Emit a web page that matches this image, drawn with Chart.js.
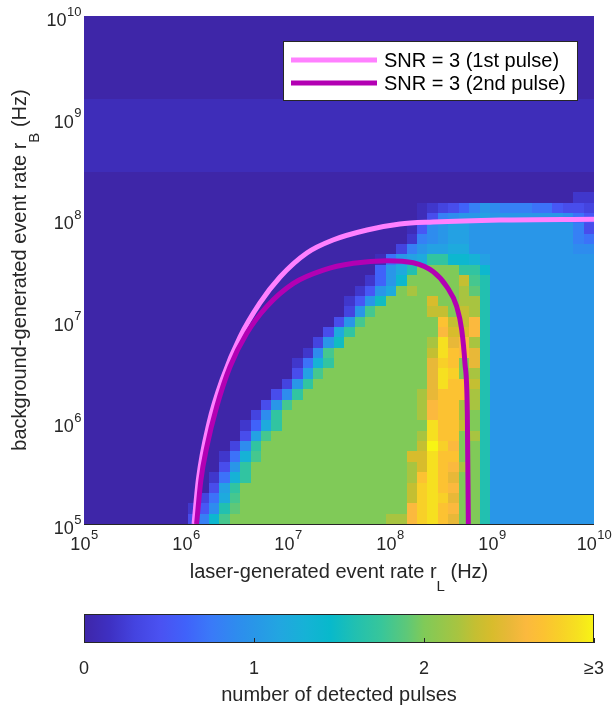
<!DOCTYPE html>
<html>
<head>
<meta charset="utf-8">
<script src="https://cdn.jsdelivr.net/npm/chart.js@4.4.1/dist/chart.umd.min.js"></script>
<style>
  html, body { margin: 0; padding: 0; background: #fff; }
  #wrap { position: relative; width: 614px; height: 708px; }
  #main { position: absolute; left: 0; top: 0; }
  #cbar { position: absolute; left: 0; top: 600px; }
</style>
</head>
<body>
<div id="wrap">
  <canvas id="main" width="614" height="600"></canvas>
  <canvas id="cbar" width="614" height="108"></canvas>
</div>
<script>
// ---- data ------------------------------------------------------------
const rateMin = 1e5;
const rateMax = 1e10;
const nCells = 49;            // simulation grid cells per axis

const tickValues = [1e5, 1e6, 1e7, 1e8, 1e9, 1e10];
const tickExps = ['5', '6', '7', '8', '9', '10'];

// number of detected pulses per cell, one string per row of r_B,
// bottom row (r_B = 1e5) first, r_L left to right. char index / 10 = value
// (spaces only group the chars for reading)
const levelChars = '0123456789abcdefghijklmnopqrstu';
const pulseRows = [
  '0000000000 48ei kkkkkkkkkk kkkkk mmqstrpkkg aaaaaaaaaa',
  '0000000000 259gj kkkkkkkkkk kkkkkk qstrqkkg aaaaaaaaaa',
  '0000000000 0 37ci kkkkkkkkkk kkkkkk nstspkkg aaaaaaaaaa',
  '0000000000 00 4bh kkkkkkkkkk kkkkkk nstrqkkg aaaaaaaaaa',
  '0000000000 00 27dh kkkkkkkkkk kkkkk mrtrpkkg aaaaaaaaaa',
  '0000000000 000 4ah kkkkkkkkkk kkkkk motrqmkg aaaaaaaaaa',
  '0000000000 000 27di kkkkkkkkkk kkkk ootrrkkg aaaaaaaaaa',
  '0000000000 0000 39h kkkkkkkkkk kkkkk nusqkkg aaaaaaaaaa',
  '0000000000 00000 4bi kkkkkkkkkk kkkk mtrrkmg aaaaaaaaaa',
  '0000000000 00000 26ch kkkkkkkkkk kkkk trrnkg aaaaaaaaaa',
  '0000000000 000000 39h kkkkkkkkkk kkk mqrrmkg aaaaaaaaaa',
  '0000000000 0000000 4ai kkkkkkkkkk kk mqrrmmg aaaaaaaaaa',
  '0000000000 00000000 49h kkkkkkkkkk k mprrrmg aaaaaaaaaa',
  '0000000000 000000000 3ah kkkkkkkkkk k ptrrng aaaaaaaaaa',
  '0000000000 0000000000 4bi kkkkkkkkkk ptskmg aaaaaaaaaa',
  '0000000000 0000000000 27dh kkkkkkkkk psrkpg aaaaaaaaaa',
  '0000000000 0000000000 0 29i kkkkkkkkk ntrqpg aaaaaaaaaa',
  '0000000000 0000000000 00 3af kkkkkkkk mtpqmg aaaaaaaaaa',
  '0000000000 0000000000 000 4ch kkkkkkkk qooqg aaaaaaaaaa',
  '0000000000 0000000000 0000 4ai kkkkkkk rnnqg aaaaaaaaaa',
  '0000000000 0000000000 00000 3ai kkkkk nnknmg aaaaaaaaaa',
  '0000000000 0000000000 00000 25af kkkk okkmmg aaaaaaaaaa',
  '0000000000 0000000000 000000 25a ckm kkkk mjg aaaaaaaaaa',
  '0000000000 0000000000 0000000 26 ae kkkkk nig aaaaaaaaaa',
  '0000000000 0000000000 00000000 6 acg kkkk hhe aaaaaaaaaa',
  '0000000000 0000000000 00000000 1 7abchheedb aaaaaaaaaa',
  '0000000000 0000000000 0000000000 38abbcc aaaaaaaaaa 99',
  '0000000000 0000000000 0000000000 0 289abb aaaaaaaaaa 87',
  '0000000000 0000000000 0000000000 0 159abb aaaaaaaaaa 84',
  '0000000000 0000000000 0000000000 00 1489aab aaaaaaa 975',
  '0000000000 0000000000 0000000000 00 123468a9888775443',
  '0000000000 0000000000 0000000000 0000000000 0000000 22',
  '0000000000 0000000000 0000000000 0000000000 000000000',
  '0000000000 0000000000 0000000000 0000000000 000000000',
  '1111111111 1111111111 1111111111 1111111111 111111111',
  '1111111111 1111111111 1111111111 1111111111 111111111',
  '1111111111 1111111111 1111111111 1111111111 111111111',
  '1111111111 1111111111 1111111111 1111111111 111111111',
  '1111111111 1111111111 1111111111 1111111111 111111111',
  '1111111111 1111111111 1111111111 1111111111 111111111',
  '1111111111 1111111111 1111111111 1111111111 111111111',
  '0000000000 0000000000 0000000000 0000000000 000000000',
  '0000000000 0000000000 0000000000 0000000000 000000000',
  '0000000000 0000000000 0000000000 0000000000 000000000',
  '0000000000 0000000000 0000000000 0000000000 000000000',
  '0000000000 0000000000 0000000000 0000000000 000000000',
  '0000000000 0000000000 0000000000 0000000000 000000000',
  '0000000000 0000000000 0000000000 0000000000 000000000',
  '0000000000 0000000000 0000000000 0000000000 000000000'
];

// SNR = 3 contours (r_L, r_B in Hz)
const snr1L = [1.20e6, 1.32e6, 1.68e6, 2.31e6, 3.38e6, 5.31e6, 8.36e6, 1.53e7, 2.76e7, 5.96e7, 1.25e8, 2.64e8, 1.20e9, 1e10];
const snr1B = [1e5, 2.71e5, 9.86e5, 2.80e6, 6.93e6, 1.50e7, 2.70e7, 4.65e7, 6.24e7, 7.83e7, 8.97e7, 9.38e7, 9.82e7, 1e8];

const snr2L = [1.27e6, 1.40e6, 1.60e6, 2.00e6, 2.70e6, 3.94e6, 6.18e6, 1.13e7, 2.22e7, 4.37e7, 9.29e7, 1.69e8, 2.66e8, 3.60e8, 4.51e8, 5.05e8, 5.43e8, 5.73e8, 5.86e8];
const snr2B = [1e5, 2.71e5, 5.77e5, 1.43e6, 3.53e6, 7.53e6, 1.38e7, 2.34e7, 3.16e7, 3.68e7, 3.91e7, 3.73e7, 3.04e7, 2.17e7, 1.38e7, 8.11e6, 3.82e6, 1.23e6, 1e5];

const cbTicks = [0, 1, 2, 3];
const cbLabels = ['0', '1', '2', '\u22653'];

// parula-like colour map, keyed by number of pulses
const cmapStops = [
  [0.00, '#3e26a8'], [0.15, '#3e30c2'], [0.30, '#4444e0'], [0.45, '#4a52f2'],
  [0.60, '#4062fa'], [0.75, '#3a7af8'], [0.90, '#2e8cee'], [1.00, '#2996e8'],
  [1.15, '#22a6e0'], [1.30, '#16b2d6'], [1.45, '#08b9cb'], [1.60, '#22c0b0'],
  [1.75, '#38c69a'], [1.90, '#5ec878'], [2.00, '#80ca58'], [2.20, '#a8c440'],
  [2.30, '#c4bf32'], [2.40, '#d8bc2c'], [2.50, '#e8b838'], [2.60, '#fbb93e'],
  [2.70, '#fcc232'], [2.80, '#f8d028'], [2.90, '#f6e020'], [3.00, '#f8f514']
];

// ---- helpers ---------------------------------------------------------
const FONT = "'Liberation Sans', Arial, sans-serif";
const TEXT = '#262626';

function hexRgb(h) {
  return [parseInt(h.slice(1, 3), 16), parseInt(h.slice(3, 5), 16), parseInt(h.slice(5, 7), 16)];
}
function pulseColor(v) {
  if (v <= cmapStops[0][0]) return cmapStops[0][1];
  for (let k = 1; k < cmapStops.length; k++) {
    if (v <= cmapStops[k][0]) {
      const [v0, c0] = cmapStops[k - 1], [v1, c1] = cmapStops[k];
      const t = (v - v0) / (v1 - v0), a = hexRgb(c0), b = hexRgb(c1);
      return 'rgb(' + a.map((q, n) => Math.round(q + (b[n] - q) * t)).join(',') + ')';
    }
  }
  return cmapStops[cmapStops.length - 1][1];
}
function cellEdge(k) {
  return rateMin * Math.pow(rateMax / rateMin, k / nCells);
}

// "10" with a raised exponent
function drawPower(ctx, exp, x, baseY, align) {
  ctx.font = '18px ' + FONT;
  const wb = ctx.measureText('10').width;
  ctx.font = '13px ' + FONT;
  const ws = ctx.measureText(exp).width;
  const x0 = align === 'center' ? x - (wb + ws) / 2 : x - (wb + ws);
  ctx.textAlign = 'left';
  ctx.textBaseline = 'alphabetic';
  ctx.font = '18px ' + FONT;
  ctx.fillText('10', x0, baseY);
  ctx.font = '13px ' + FONT;
  ctx.fillText(exp, x0 + wb + 0.5, baseY - 10.5);
}

// text with a lowered subscript, centred on x
function drawSubLabel(ctx, pre, sub, post, x, baseY) {
  ctx.font = '20px ' + FONT;
  const w1 = ctx.measureText(pre).width, w3 = ctx.measureText(post).width;
  ctx.font = '15px ' + FONT;
  const w2 = ctx.measureText(sub).width;
  let cx = x - (w1 + w2 + w3) / 2;
  ctx.textAlign = 'left';
  ctx.textBaseline = 'alphabetic';
  ctx.font = '20px ' + FONT;
  ctx.fillText(pre, cx, baseY);
  ctx.font = '15px ' + FONT;
  ctx.fillText(sub, cx + w1, baseY + 13);
  ctx.font = '20px ' + FONT;
  ctx.fillText(post, cx + w1 + w2, baseY);
}

// ---- plugins ---------------------------------------------------------
const heatmapPlugin = {
  id: 'heatmap',
  beforeDatasetsDraw(chart) {
    const { ctx, chartArea: a, scales: { x, y } } = chart;
    ctx.save();
    ctx.beginPath();
    ctx.rect(a.left, a.top, a.width, a.height);
    ctx.clip();
    pulseRows.forEach((raw, j) => {
      const row = raw.replace(/ /g, '');
      const yb = Math.round(y.getPixelForValue(cellEdge(j)));
      const yt = Math.round(y.getPixelForValue(cellEdge(j + 1)));
      for (let i = 0; i < row.length; i++) {
        const xl = Math.round(x.getPixelForValue(cellEdge(i)));
        const xr = Math.round(x.getPixelForValue(cellEdge(i + 1)));
        ctx.fillStyle = pulseColor(levelChars.indexOf(row[i]) / 10);
        ctx.fillRect(xl, yt, xr - xl, yb - yt);
      }
    });
    ctx.restore();
  }
};

const decorPlugin = {
  id: 'decor',
  afterDraw(chart) {
    const { ctx, chartArea: a, scales: { x, y } } = chart;
    ctx.save();
    // bottom axis line
    ctx.strokeStyle = TEXT;
    ctx.lineWidth = 1;
    ctx.beginPath();
    ctx.moveTo(a.left, a.bottom + 0.5);
    ctx.lineTo(a.right, a.bottom + 0.5);
    ctx.stroke();

    // tick labels
    ctx.fillStyle = TEXT;
    tickValues.forEach((v, k) => {
      drawPower(ctx, tickExps[k], x.getPixelForValue(v), a.bottom + 25.5, 'center');
      drawPower(ctx, tickExps[k], a.left - 3, y.getPixelForValue(v) + 10, 'right');
    });

    // axis titles
    drawSubLabel(ctx, 'laser-generated event rate r', 'L', ' (Hz)', (a.left + a.right) / 2, 578);
    ctx.save();
    ctx.translate(21, (a.top + a.bottom) / 2);
    ctx.rotate(-Math.PI / 2);
    drawSubLabel(ctx, 'background-generated event rate r', 'B', ' (Hz)', 0, 5);
    ctx.restore();

    // legend
    const lx = 283, ly = 41, lw = 295, lh = 60;
    ctx.fillStyle = '#ffffff';
    ctx.fillRect(lx, ly, lw, lh);
    ctx.strokeStyle = TEXT;
    ctx.strokeRect(lx + 0.5, ly + 0.5, lw - 1, lh - 1);
    chart.data.datasets.forEach((ds, k) => {
      const iy = ly + 19 + k * 23;
      ctx.strokeStyle = ds.borderColor;
      ctx.lineWidth = 5;
      ctx.beginPath();
      ctx.moveTo(lx + 8, iy);
      ctx.lineTo(lx + 94, iy);
      ctx.stroke();
      ctx.fillStyle = '#000';
      ctx.font = '20px ' + FONT;
      ctx.textAlign = 'left';
      ctx.textBaseline = 'middle';
      ctx.fillText(ds.label, lx + 101, iy + 1);
    });
    ctx.restore();
  }
};

// ---- main chart ------------------------------------------------------
new Chart(document.getElementById('main'), {
  type: 'scatter',
  data: {
    datasets: [
      {
        label: 'SNR = 3 (1st pulse)',
        data: snr1L.map((v, k) => ({ x: v, y: snr1B[k] })),
        showLine: true,
        borderColor: '#ff80ff',
        borderWidth: 5,
        pointRadius: 0,
        cubicInterpolationMode: 'monotone',
        order: 2
      },
      {
        label: 'SNR = 3 (2nd pulse)',
        data: snr2L.map((v, k) => ({ x: v, y: snr2B[k] })),
        showLine: true,
        borderColor: '#b300b3',
        borderWidth: 5,
        pointRadius: 0,
        cubicInterpolationMode: 'monotone',
        order: 1
      }
    ]
  },
  options: {
    responsive: false,
    animation: false,
    events: [],
    layout: { padding: { left: 84, right: 20, top: 16, bottom: 76 }, autoPadding: false },
    plugins: { legend: { display: false }, tooltip: { enabled: false } },
    scales: {
      x: {
        type: 'logarithmic', min: rateMin, max: rateMax,
        ticks: { display: false },
        grid: { display: false, drawTicks: false },
        border: { display: false }
      },
      y: {
        type: 'logarithmic', min: rateMin, max: rateMax,
        ticks: { display: false },
        grid: { display: false, drawTicks: false },
        border: { display: false }
      }
    }
  },
  plugins: [heatmapPlugin, decorPlugin]
});

// ---- colour bar ------------------------------------------------------
const cbarDecor = {
  id: 'cbarDecor',
  afterDraw(chart) {
    const { ctx, chartArea: a, scales: { x } } = chart;
    ctx.save();
    ctx.strokeStyle = TEXT;
    ctx.lineWidth = 1;
    ctx.strokeRect(a.left + 0.5, a.top + 0.5, a.width - 1, a.height - 1);
    ctx.fillStyle = TEXT;
    ctx.font = '18px ' + FONT;
    ctx.textAlign = 'center';
    ctx.textBaseline = 'alphabetic';
    cbTicks.forEach((v, k) => {
      const px = Math.round(x.getPixelForValue(v)) + 0.5;
      ctx.beginPath();
      ctx.moveTo(px, a.bottom);
      ctx.lineTo(px, a.bottom - 5);
      ctx.stroke();
      ctx.fillText(cbLabels[k], x.getPixelForValue(v), 74);
    });
    ctx.font = '20px ' + FONT;
    ctx.fillText('number of detected pulses', (a.left + a.right) / 2, 101);
    ctx.restore();
  }
};

new Chart(document.getElementById('cbar'), {
  type: 'bar',
  data: {
    labels: [''],
    datasets: [{
      data: [[cbTicks[0], cbTicks[cbTicks.length - 1]]],
      backgroundColor(c) {
        const ch = c.chart;
        if (!ch.chartArea) return '#3e26a8';
        const xs = ch.scales.x;
        const g = ch.ctx.createLinearGradient(xs.getPixelForValue(0), 0, xs.getPixelForValue(3), 0);
        cmapStops.forEach(([v, col]) => g.addColorStop(v / 3, col));
        return g;
      },
      borderWidth: 0,
      barPercentage: 1,
      categoryPercentage: 1
    }]
  },
  options: {
    indexAxis: 'y',
    responsive: false,
    animation: false,
    events: [],
    layout: { padding: { left: 84, right: 20, top: 14, bottom: 65 }, autoPadding: false },
    plugins: { legend: { display: false }, tooltip: { enabled: false } },
    scales: {
      x: { type: 'linear', min: 0, max: 3, display: false },
      y: { display: false }
    }
  },
  plugins: [cbarDecor]
});

pulseRows.forEach((r, k) => {
  if (r.replace(/ /g, '').length !== nCells) console.error('row ' + k + ' length ' + r.replace(/ /g, '').length);
});
</script>
</body>
</html>
